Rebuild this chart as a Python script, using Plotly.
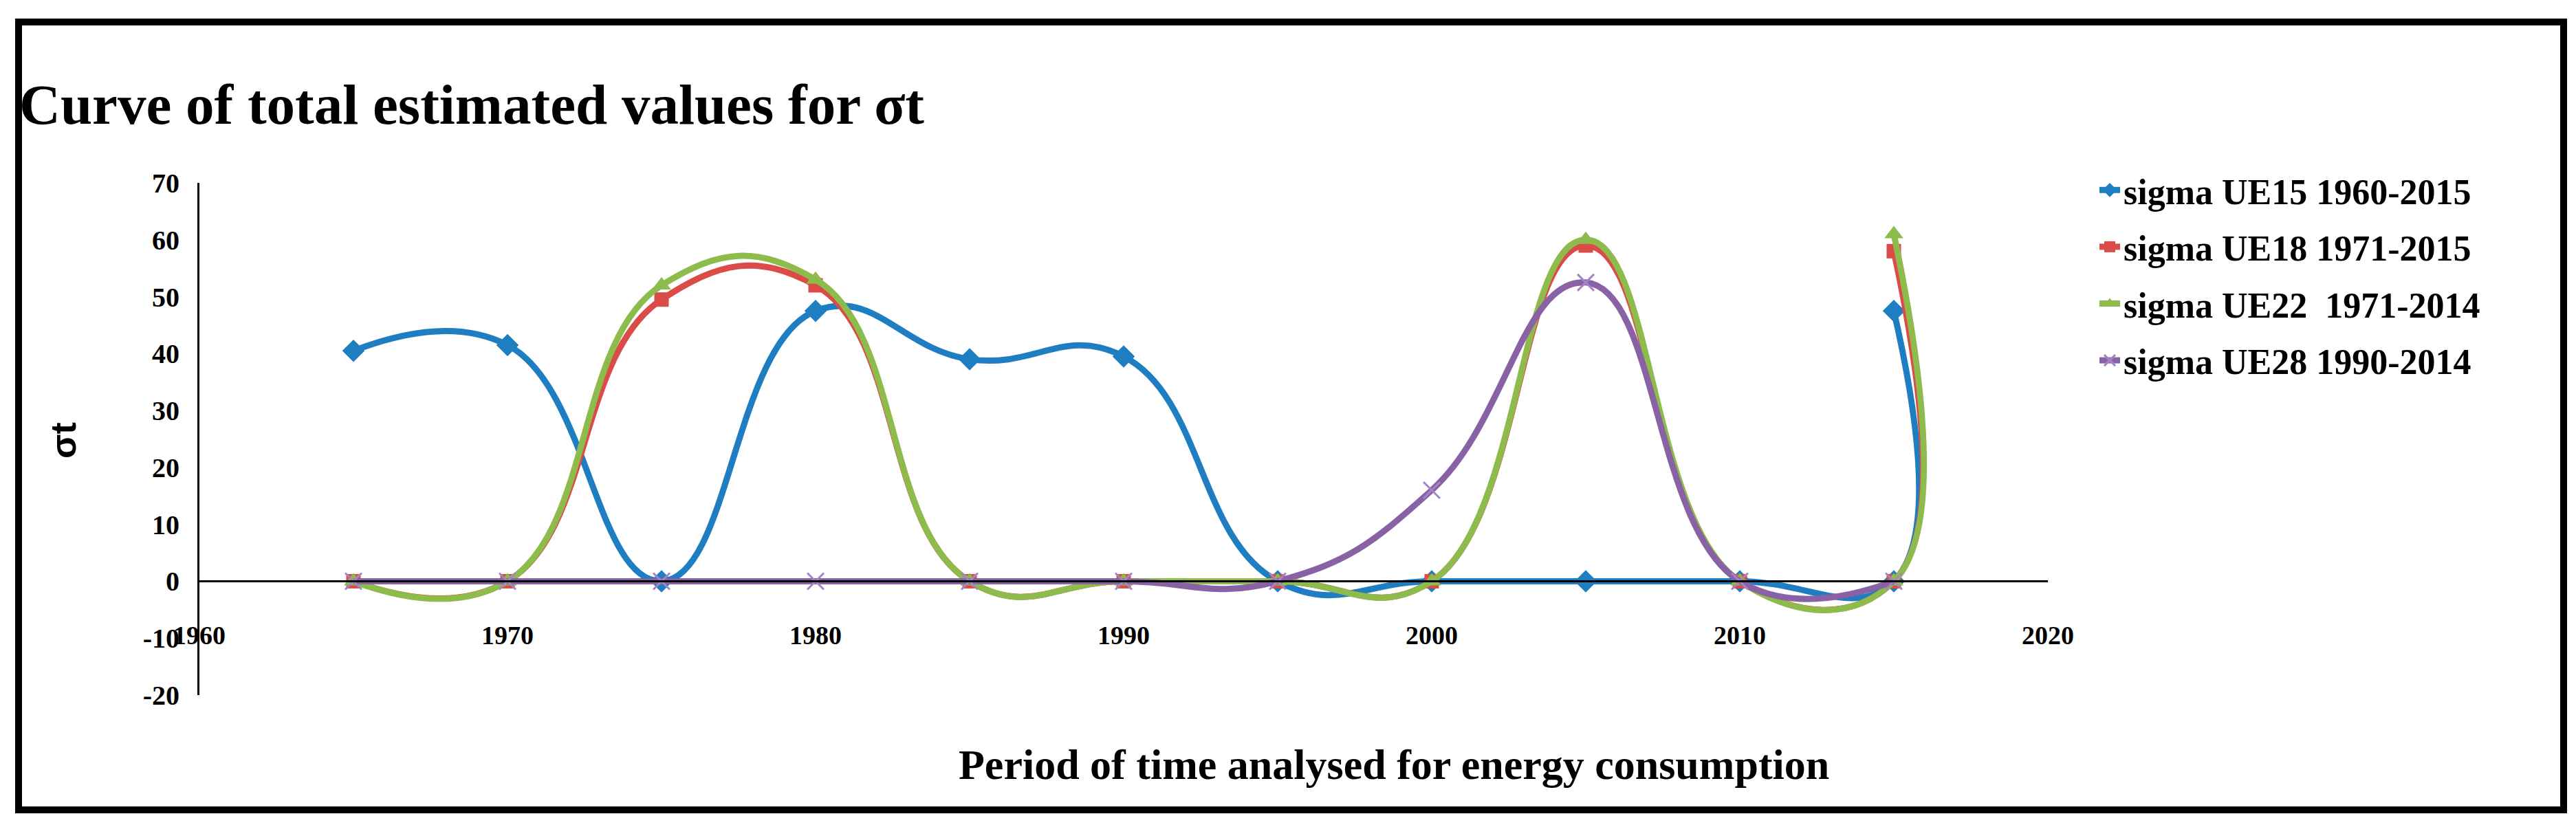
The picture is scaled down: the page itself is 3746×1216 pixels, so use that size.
import plotly.graph_objects as go

# values
years = [1965, 1970, 1975, 1980, 1985, 1990, 1995, 2000, 2005, 2010, 2015, 2015]
years_ue28 = [1965, 1970, 1975, 1980, 1985, 1990, 1995, 2000, 2005, 2010, 2015]
sigma_ue15 = [40.5, 41.5, 0, 47.5, 39, 39.5, 0, 0, 0, 0, 0, 47.5]
sigma_ue18 = [0, 0, 49.5, 52, 0, 0, 0, 0, 59, 0, 0, 58]
sigma_ue22 = [0, 0, 52, 53, 0, 0, 0, 0, 60, 0, 0, 61]
sigma_ue28 = [0, 0, 0, 0, 0, 0, 0, 16, 52.5, 0, 0]

series_names = ["sigma UE15 1960-2015", "sigma UE18 1971-2015",
                "sigma UE22  1971-2014", "sigma UE28 1990-2014"]

y_tickvals = [70, 60, 50, 40, 30, 20, 10, 0, -10, -20]
y_ticktext = ["70", "60", "50", "40", "30", "20", "10", "0", "-10", "-20"]
x_tickvals = [1960, 1970, 1980, 1990, 2000, 2010, 2020]

SERIF = "Liberation Serif, DejaVu Serif, serif"
W, H = 3746, 1216
L, R, T, B = 282, 776, 258, 213

styles = [
    ("#1F7EC1", "diamond", 25, None),
    ("#DB4B48", "square", 21, None),
    ("#8DBB4C", "triangle-up", 24, None),
    ("#8962A6", "x-thin", 24, "#A484C4"),
]
xs = [years, years, years, years_ue28]
ys = [sigma_ue15, sigma_ue18, sigma_ue22, sigma_ue28]

fig = go.Figure()
for name, x, y, (color, symbol, size, mline) in zip(series_names, xs, ys, styles):
    marker = dict(symbol=symbol, size=size, color=color)
    if mline:
        marker["line"] = dict(color=mline, width=3)
    fig.add_trace(go.Scatter(
        x=x, y=y, name=name, mode="lines+markers", legendgroup=name,
        line=dict(color=color, width=9, shape="spline", smoothing=1.3),
        marker=marker,
    ))


def px_x(p):
    return (p - L) / (W - L - R)


def px_y(p):
    return (H - B - p) / (H - T - B)


fig.update_layout(
    width=W, height=H,
    margin=dict(l=L, r=R, t=T, b=B),
    paper_bgcolor="white", plot_bgcolor="white",
    font=dict(family=SERIF, color="black"),
    title=dict(text="Curve of total estimated values for σt",
               x=20 / W, xanchor="left", y=1 - 143 / H, yanchor="middle",
               font=dict(family=SERIF, size=83, weight="bold", color="black")),
    showlegend=True,
    legend=dict(x=px_x(3040), xanchor="left", y=px_y(228), yanchor="top",
                font=dict(family=SERIF, size=52, weight="bold", color="black"),
                tracegroupgap=12, bgcolor="rgba(0,0,0,0)"),
)

fig.update_xaxes(
    range=[1960, 2020], tickvals=x_tickvals, showgrid=False, zeroline=False,
    showline=True, linecolor="black", linewidth=3,
    anchor="free", position=20 / 90, ticks="", ticklabelstandoff=44,
    tickfont=dict(family=SERIF, size=38, weight="bold", color="black"),
)
fig.update_yaxes(
    range=[-20, 70], tickvals=y_tickvals, ticktext=y_ticktext,
    showgrid=False, zeroline=False,
    showline=True, linecolor="black", linewidth=3, ticks="", ticklabelstandoff=18,
    tickfont=dict(family=SERIF, size=40, weight="bold", color="black"),
)

fig.add_annotation(text="Period of time analysed for energy consumption",
                   xref="paper", yref="paper", x=px_x(2019), y=px_y(1104),
                   showarrow=False, xanchor="center", yanchor="middle",
                   font=dict(family=SERIF, size=62, weight="bold", color="black"))
fig.add_annotation(text="σt", textangle=-90,
                   xref="paper", yref="paper", x=px_x(84), y=px_y(633),
                   showarrow=False, xanchor="center", yanchor="middle",
                   font=dict(family="Liberation Sans, Arial, sans-serif", size=52,
                             weight="bold", color="black"))

# frame around the whole chart
fig.add_shape(type="rect", xref="paper", yref="paper",
              x0=px_x(19), x1=px_x(3720), y0=px_y(1170), y1=px_y(24),
              line=dict(color="black", width=10), fillcolor="rgba(0,0,0,0)")

fig.write_html("out.html")
